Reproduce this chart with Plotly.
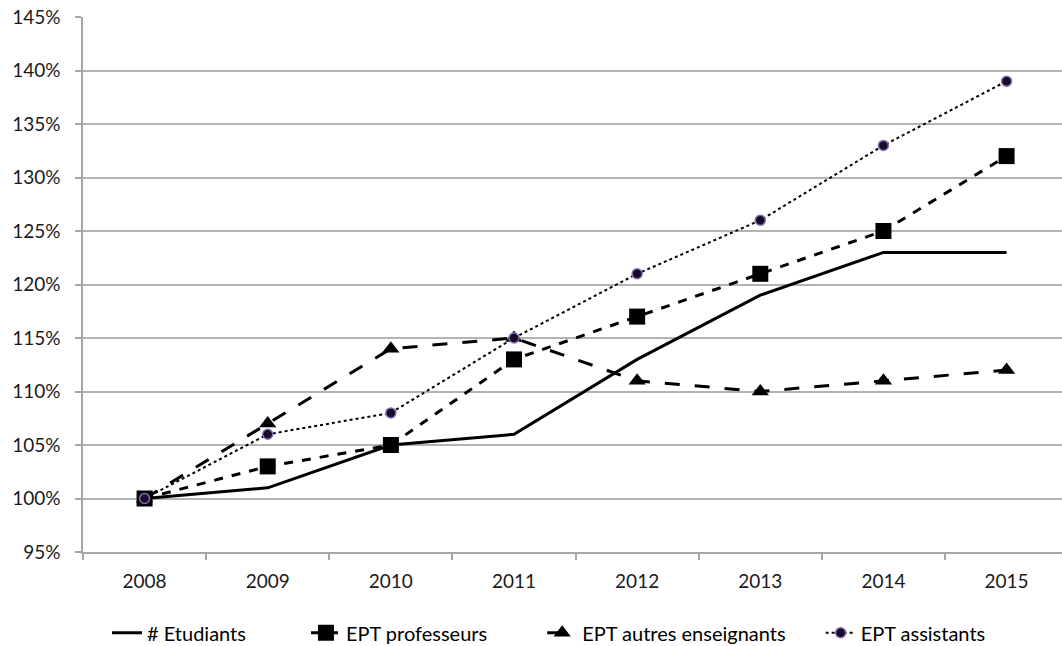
import plotly.graph_objects as go

years = ["2008", "2009", "2010", "2011", "2012", "2013", "2014", "2015"]
etudiants = [100, 101, 105, 106, 113, 119, 123, 123]
professeurs = [100, 103, 105, 113, 117, 121, 125, 132]
autres = [100, 107, 114, 115, 111, 110, 111, 112]
assistants = [100, 106, 108, 115, 121, 126, 133, 139]
y_ticks = [95, 100, 105, 110, 115, 120, 125, 130, 135, 140, 145]
y_labels = [f"{v}%" for v in y_ticks]

EM, EN, THIN = "\u2003", "\u2002", "\u2009"

fig = go.Figure()
fig.add_trace(go.Scatter(x=years, y=etudiants,
                         name="# Etudiants" + EM + EM + EN + EN + THIN + THIN,
                         mode="lines", line=dict(color="black", width=3)))
fig.add_trace(go.Scatter(x=years, y=professeurs, name="EPT professeurs" + EM + EM + EN + EN,
                         mode="lines+markers",
                         line=dict(color="black", width=3, dash="dash"),
                         marker=dict(symbol="square", size=16, color="black")))
fig.add_trace(go.Scatter(x=years, y=autres,
                         name="EPT autres enseignants" + EM + EN + THIN + THIN,
                         mode="lines+markers",
                         line=dict(color="black", width=3, dash="longdash"),
                         marker=dict(symbol="triangle-up", size=15, color="black")))
fig.add_trace(go.Scatter(x=years, y=assistants, name="EPT assistants", mode="lines+markers",
                         line=dict(color="black", width=2, dash="dot"),
                         marker=dict(symbol="circle", size=10, color="#150c28",
                                     line=dict(color="#8a6bb8", width=1.5))))

fig.update_layout(
    width=1062, height=646,
    margin=dict(l=83, r=0, t=17, b=94, autoexpand=False),
    plot_bgcolor="white", paper_bgcolor="white",
    font=dict(family="Lato", size=19, color="#1a1a1a"),
    showlegend=True,
    legend=dict(orientation="h", x=0.0245, xanchor="left", y=-0.151, yanchor="middle",
                font=dict(family="Lato", size=20, color="black"),
                itemwidth=30),
)
fig.update_xaxes(type="category", range=[-0.5, 7.45], automargin=False,
                 showline=True, linecolor="#a6a6a6", linewidth=1.5,
                 showgrid=False, ticks="outside", tickson="boundaries",
                 ticklen=6, tickcolor="#a6a6a6", tickwidth=1.5,
                 ticklabelstandoff=11, tickfont=dict(size=19))
fig.update_yaxes(range=[95, 145], tickvals=y_ticks, ticktext=y_labels, automargin=False,
                 showline=True, linecolor="#a6a6a6", linewidth=1.5,
                 showgrid=True, gridcolor="#b3b3b3", gridwidth=1.5,
                 ticks="outside", ticklen=6, tickcolor="#a6a6a6", tickwidth=1.5,
                 ticklabelstandoff=11, ticklabeloverflow="allow",
                 zeroline=False, tickfont=dict(size=19))

fig.write_html("out.html", config={"displayModeBar": False},
               post_script="document.body.style.margin='0';")
